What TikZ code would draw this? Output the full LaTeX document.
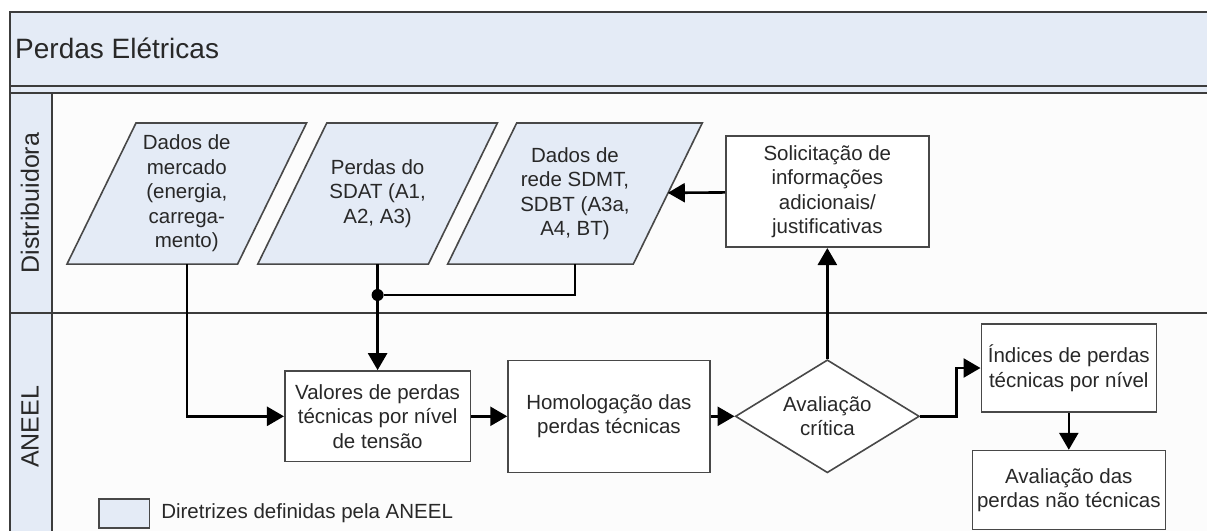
\documentclass[tikz,border=0pt]{standalone}
\usepackage{fontspec}
\setmainfont{Liberation Sans}
\usepackage{tikz}
\usetikzlibrary{positioning, arrows.meta, calc, shapes.geometric, backgrounds}
\definecolor{laneblue}{RGB}{228,235,246}
\definecolor{framegray}{RGB}{60,60,60}
\definecolor{boxgray}{RGB}{72,72,72}
\definecolor{textgray}{RGB}{40,40,40}
\tikzset{base node/.style={draw=boxgray, line width=1.6pt, inner sep=0pt, align=center, text=textgray, font=\fontsize{20.5}{24.5}\selectfont},
	data node/.style={base node, draw=none, rectangle, minimum height=139.5pt},
	data shape/.style={draw=boxgray, line width=1.6pt, fill=laneblue, line join=miter},
	step node/.style={base node, rectangle, fill=white},
	check node/.style={base node, diamond, aspect=1.63, fill=white, minimum width=184pt, minimum height=113pt},
	lane label/.style={rotate=90, text=textgray, font=\fontsize{25}{27}\selectfont},
	lane line/.style={draw=framegray, line width=2pt},
	flow/.style={line width=2.6pt, -{Triangle[length=17pt,width=19pt]}},}

\begin{document}
\begin{tikzpicture}[x=1pt, y=1pt]
			\useasboundingbox (0,0) rectangle (1207,-530);
			% Lanes
			\begin{scope}[on background layer]
			\fill[laneblue] (10,-12) rectangle (1215,-93);
			\fill[laneblue] (10,-93) rectangle (51.7,-545);
			\fill[white!99!black] (51.7,-93) rectangle (1215,-545);
			\draw[lane line] (1215,-12) -- (10,-12) -- (10,-545);
			\draw[lane line] (10,-86) -- (1215,-86);
			\draw[lane line] (10,-93) -- (1215,-93);
			\draw[lane line] (10,-313) -- (1215,-313);
			\draw[lane line] (51.7,-93) -- (51.7,-545);
			\end{scope}
			\node[anchor=base west, inner sep=0pt, text=textgray, font=\fontsize{28}{30}\selectfont] (title) at (15,-58) {Perdas Elétricas};
			\node[lane label] (distlane) at (30,-203) {Distribuidora};
			\node[lane label] (aneellane) at (30,-427) {ANEEL};
			% Nodes
			\node[data node, minimum width=169pt] (market) at (186.8,-193.5) {Dados de\\mercado\\(energia,\\carrega-\\mento)};
			\node[data node, minimum width=169pt] (sdat) at (377.6,-193.5) {Perdas do\\SDAT (A1,\\A2, A3)};
			\node[data node, minimum width=184pt] (network) at (575,-193.5) {Dados de\\rede SDMT,\\SDBT (A3a,\\A4, BT)};
			\begin{scope}[on background layer]
			\foreach \n in {market, sdat, network}
				\path[data shape] ($(\n.south west)+(-34.5,0)$) -- ($(\n.north west)+(34.5,0)$) -- ($(\n.north east)+(34.5,0)$) -- ($(\n.south east)+(-34.5,0)$) -- cycle;
			\end{scope}
			\node[step node, minimum width=185.7pt, minimum height=90.7pt] (valores) at (377.6,-416.3) {Valores de perdas\\técnicas por nível\\de tensão};
			\node[step node, minimum width=201.7pt, minimum height=112pt] [right = 36pt of valores] (homol) {Homologação das\\perdas técnicas};
			\node[check node] [right = 24pt of homol] (aval) {Avaliação\\crítica};
			\node[step node, minimum width=203pt, minimum height=111pt] [above = 111pt of aval] (sol) {Solicitação de\\informações\\adicionais/\\justificativas};
			\node[step node, minimum width=175pt, minimum height=88pt] (indices) at (1068.8,-368) {Índices de perdas\\técnicas por nível};
			\node[step node, minimum width=193pt, minimum height=79pt] [below = 37pt of indices] (naotec) {Avaliação das\\perdas não técnicas};
			\node[circle, fill=black, inner sep=0pt, minimum size=12pt] (joint) at (377.6,-295) {};
			% Legend
			\node[base node, fill=laneblue, minimum width=50.6pt, minimum height=29pt] (legend) at (124,-513.5) {};
			\node[right = 11pt of legend, inner sep=0pt, text=textgray, font=\fontsize{20.5}{24.5}\selectfont] (legendtext) {Diretrizes definidas pela ANEEL};
			% Paths
			\draw[flow] (market) |- (valores.west);
			\draw[line width=2.6pt] (network) |- (joint);
			\path[draw, flow]
			(sdat) edge (valores)
			(valores) edge (homol)
			(homol) edge (aval)
			(aval) edge (sol)
			(sol) edge (network)
			(indices) edge (naotec);
			\draw[flow] (aval.east) -- ++(36.5,0) |- (indices.west);
		\end{tikzpicture}
\end{document}
